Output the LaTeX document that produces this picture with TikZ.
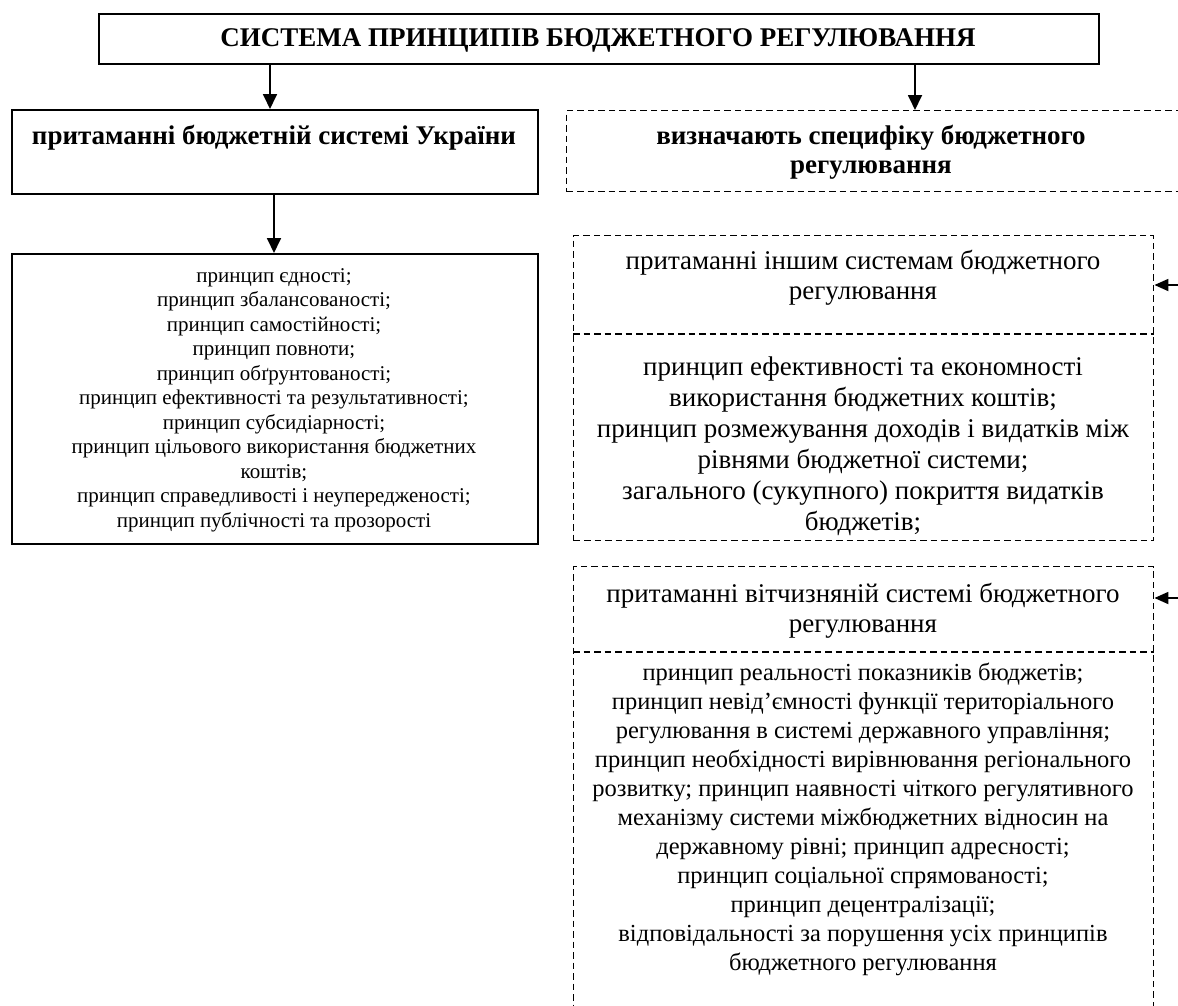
\documentclass[tikz,border=0pt]{standalone}
\usepackage{fontspec}
\setmainfont{Liberation Serif}
\usetikzlibrary{arrows.meta}
\begin{document}
\begin{tikzpicture}[x=1pt,y=-1pt,
  solidbox/.style={draw, line width=1.8pt, inner sep=0pt, anchor=north west},
  dbox/.style={draw, line width=1.4pt, dash pattern=on 6.5pt off 4pt, inner sep=0pt, anchor=north west},
  dline/.style={line width=1.4pt, dash pattern=on 6.5pt off 4pt},
  arr/.style={line width=1.8pt, -{Triangle[length=15pt,width=14pt]}},
  sarr/.style={line width=1.8pt, -{Triangle[length=14pt,width=12pt]}},
  txt/.style={inner sep=0pt, align=center},
  headfont/.style={font=\fontsize{27}{29}\selectfont\bfseries},
  bigfont/.style={font=\fontsize{27}{30}\selectfont},
  midfont/.style={font=\fontsize{24.5}{29}\selectfont},
  smallfont/.style={font=\fontsize{21}{24.5}\selectfont}
]
\clip (0,0) rectangle (1178,1005);
\fill[white] (0,0) rectangle (1178,1005);

% top box
\node[solidbox, minimum width=1000pt, minimum height=50pt] (title) at (98,13) {};
\node[txt, font=\fontsize{27}{30}\selectfont\bfseries] (titletxt) at (598,40)
  {СИСТЕМА ПРИНЦИПІВ БЮДЖЕТНОГО РЕГУЛЮВАННЯ};

% left column
\node[solidbox, minimum width=526pt, minimum height=84pt] (lhead) at (11,109) {};
\node[txt, headfont] (lheadtxt) at (274,138) {притаманні бюджетній системі України};

\node[solidbox, minimum width=526pt, minimum height=290pt] (llist) at (11,253) {};
\node[txt, smallfont] (llisttxt) at (274,400) {принцип єдності;\\
принцип збалансованості;\\
принцип самостійності;\\
принцип повноти;\\
принцип обґрунтованості;\\
принцип ефективності та результативності;\\
принцип субсидіарності;\\
принцип цільового використання бюджетних\\
коштів;\\
принцип справедливості і неупередженості;\\
принцип публічності та прозорості};

% right column
\node[dbox, minimum width=640pt, minimum height=81pt] (rhead) at (566,110) {};
\node[txt, headfont] (rheadtxt) at (871,152.5) {визначають специфіку бюджетного\\регулювання};

\node[dbox, minimum width=580pt, minimum height=305pt] (boxa) at (573,235) {};
\coordinate (boxadiv) at (573,334);
\draw[dline] (boxadiv) -- (boxadiv -| boxa.east);
\node[txt, bigfont] (boxatitle) at (863,277.5) {притаманні іншим системам бюджетного\\регулювання};
\node[txt, font=\fontsize{27}{31}\selectfont] (boxalist) at (863,446) {принцип ефективності та економності\\
використання бюджетних коштів;\\
принцип розмежування доходів і видатків між\\
рівнями бюджетної системи;\\
загального (сукупного) покриття видатків\\
бюджетів;};

\node[dbox, minimum width=580pt, minimum height=460pt] (boxb) at (573,566) {};
\coordinate (boxbdiv) at (573,652);
\draw[dline] (boxbdiv) -- (boxbdiv -| boxb.east);
\node[txt, bigfont] (boxbtitle) at (863,611) {притаманні вітчизняній системі бюджетного\\регулювання};
\node[txt, midfont] (boxblist) at (863,819) {принцип реальності показників бюджетів;\\
принцип невід’ємності функції територіального\\
регулювання в системі державного управління;\\
принцип необхідності вирівнювання регіонального\\
розвитку; принцип наявності чіткого регулятивного\\
механізму системи міжбюджетних відносин на\\
державному рівні; принцип адресності;\\
принцип соціальної спрямованості;\\
принцип децентралізації;\\
відповідальності за порушення усіх принципів\\
бюджетного регулювання};

% connectors
\coordinate (ax1) at (270,0);
\coordinate (ax2) at (274,0);
\coordinate (ax3) at (915,0);
\draw[arr] (title.south -| ax1) -- (lhead.north -| ax1);
\draw[arr] (lhead.south -| ax2) -- (llist.north -| ax2);
\draw[arr] (title.south -| ax3) -- (rhead.north -| ax3);

\coordinate (ra) at (1185,285);
\coordinate (rb) at (1185,598);
\draw[sarr] (ra) -- (boxa.east |- ra);
\draw[sarr] (rb) -- (boxb.east |- rb);
\end{tikzpicture}
\end{document}
